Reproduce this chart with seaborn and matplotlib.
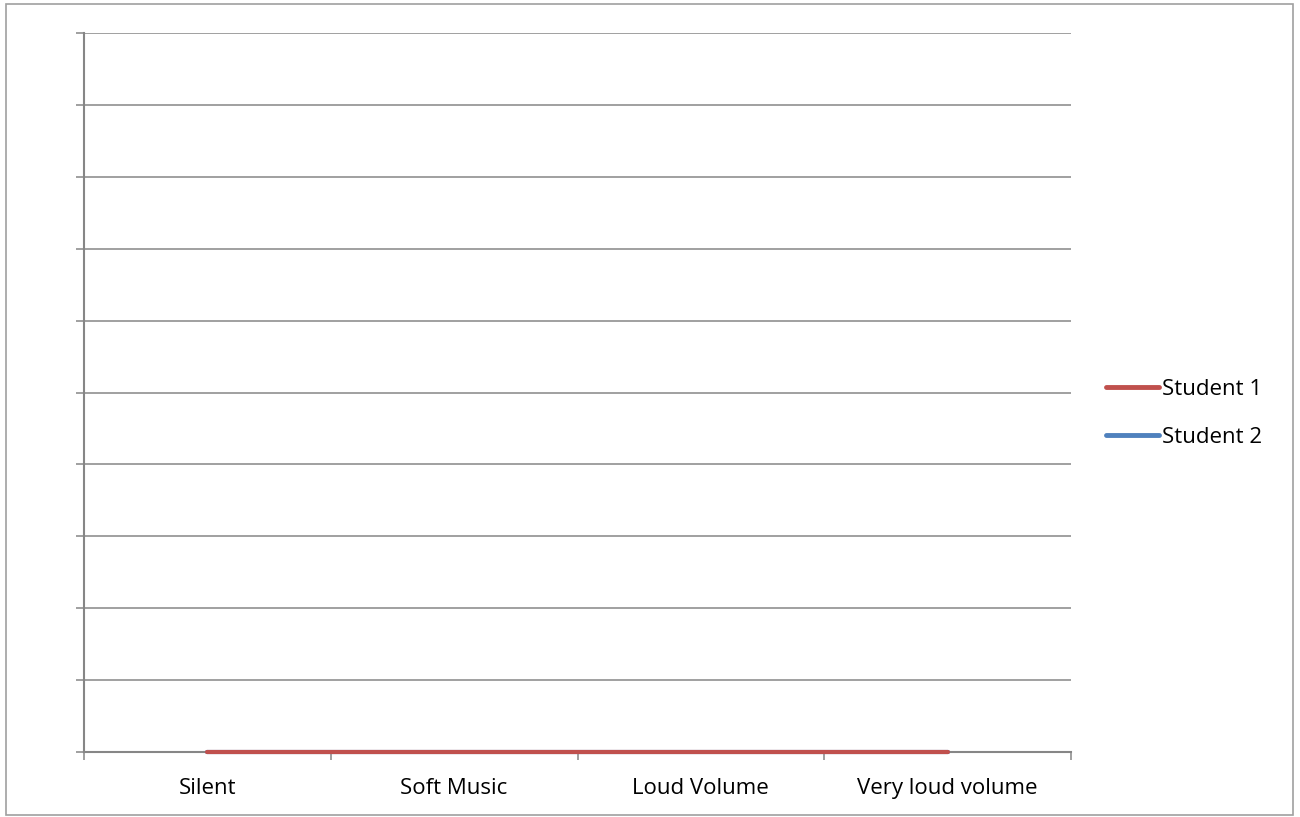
import pandas as pd
import numpy as np
import matplotlib
matplotlib.use("Agg")
import matplotlib.pyplot as plt
import seaborn as sns
from matplotlib.patches import Rectangle

# data
categories = ["Silent", "Soft Music", "Loud Volume", "Very loud volume"]
student1 = [0, 0, 0, 0]
student2 = [0, 0, 0, 0]
series_names = ["Student 1", "Student 2"]

df = pd.DataFrame({
    "condition": categories * 2,
    "score": student1 + student2,
    "student": [series_names[0]] * 4 + [series_names[1]] * 4,
})
df["pos"] = df["condition"].map({c: i for i, c in enumerate(categories)})

sns.set_style("white")
plt.rcParams["font.family"] = ["Open Sans", "DejaVu Sans"]
plt.rcParams["text.color"] = "black"
plt.rcParams["xtick.color"] = "black"

grid_col = "#868686"
fs = 16
fig = plt.figure(figsize=(13, 8.17), dpi=100)
ax = fig.add_axes([84 / 1300, 1 - 752 / 817, (1071 - 84) / 1300, (752 - 33) / 817])

# draw student 2 first so student 1 sits on top
pal = {"Student 1": "#C0504D", "Student 2": "#4F81BD"}
sns.lineplot(data=df, x="pos", y="score", hue="student",
             hue_order=["Student 2", "Student 1"], palette=pal,
             linewidth=3, ax=ax, legend=False,
             solid_capstyle="round", zorder=5, clip_on=False)

ax.set_xlim(-0.5, 3.5)
ax.set_ylim(0, 1)
ax.set_yticks(np.linspace(0, 1, 11))
ax.set_yticklabels([])
ax.yaxis.grid(True, color=grid_col, linewidth=1.1)
ax.set_axisbelow(True)

ax.set_xticks(np.arange(-0.5, 4, 1))
ax.set_xticklabels([])
ax.set_xticks(range(len(categories)), minor=True)
ax.set_xticklabels(categories, minor=True, fontsize=fs, color="black")
ax.tick_params(axis="x", which="minor", length=0, pad=19)
ax.tick_params(axis="both", which="major", length=6, width=1.1,
               color=grid_col, direction="out")
ax.tick_params(axis="x", which="major", bottom=True)
ax.tick_params(axis="y", which="major", left=True)
ax.set_xlabel("")
ax.set_ylabel("")

for s in ["top", "right"]:
    ax.spines[s].set_visible(False)
for s in ["left", "bottom"]:
    ax.spines[s].set_color(grid_col)
    ax.spines[s].set_linewidth(1.5)

# legend
handles = [plt.Line2D([], [], color=pal[n], linewidth=3.5, solid_capstyle="round")
           for n in series_names]
fig.legend(handles, series_names, loc="center left",
           bbox_to_anchor=(1086 / 1300, 1 - 413.5 / 817), frameon=False,
           fontsize=fs, handlelength=2.4, handletextpad=0.12,
           labelspacing=1.2)

# outer chart border
fig.patches.append(Rectangle((6 / 1300, 2 / 817), 1287 / 1300, 811 / 817,
                             transform=fig.transFigure, fill=False,
                             edgecolor="#A0A0A0", linewidth=1.2))

fig.savefig("out.png", dpi=100)
